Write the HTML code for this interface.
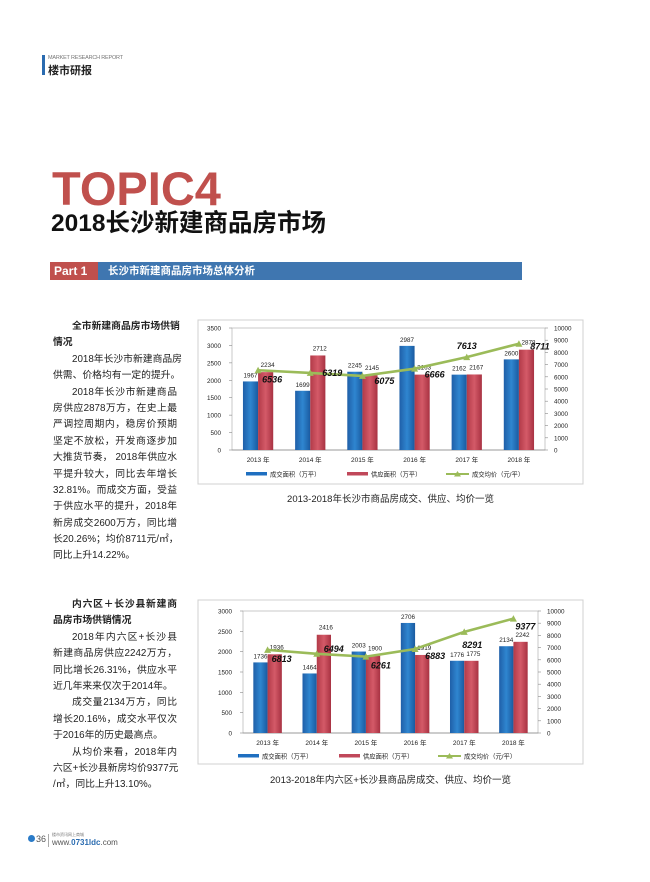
<!DOCTYPE html>
<html><head><meta charset="utf-8">
<style>
*{margin:0;padding:0;box-sizing:border-box}
body{width:650px;height:882px;background:#fff;position:relative;overflow:hidden;font-family:"Liberation Sans","Noto Sans CJK SC",sans-serif;color:#222}
.abs{position:absolute}
.txt{position:absolute;left:53px;width:124px;font-size:9.8px;line-height:16.4px;color:#222}
.txt div{white-space:nowrap;height:16.4px;overflow:visible}
.txt .j{text-align:justify;text-align-last:justify}
.txt .i{padding-left:19px}
.txt .h{font-weight:bold}
.cap{position:absolute;font-size:9.5px;color:#222;width:385px;text-align:center;left:198px}
</style></head><body>
<div class="abs" style="left:42px;top:55px;width:3px;height:20px;background:#2a6bb0"></div>
<div class="abs" style="left:48px;top:55px;font-size:5.5px;color:#777;letter-spacing:-0.2px">MARKET RESEARCH REPORT</div>
<div class="abs" style="left:48px;top:62px;font-size:11px;font-weight:bold;color:#222">楼市研报</div>
<div class="abs" style="left:52px;top:164px;font-size:47px;font-weight:bold;color:#c0504d;line-height:50px">TOPIC4</div>
<div class="abs" style="left:51px;top:210px;font-size:24.5px;font-weight:bold;color:#111;line-height:28px">2018长沙新建商品房市场</div>
<div class="abs" style="left:97px;top:262px;width:425px;height:18px;background:#3f76b0"></div>
<div class="abs" style="left:50px;top:262px;width:48px;height:18px;background:#c0504d;color:#fff;font-size:12px;font-weight:bold;line-height:18px;padding-left:4px">Part 1</div>
<div class="abs" style="left:108px;top:262px;color:#fff;font-size:10.5px;font-weight:bold;line-height:18px">长沙市新建商品房市场总体分析</div>

<div class="txt" style="top:319px">
<div class="h j i">全市新建商品房市场供销</div>
<div class="h">情况</div>
<div class="j i">2018年长沙市新建商品房</div>
<div>供需、价格均有一定的提升。</div>
<div class="j i">2018年长沙市新建商品</div>
<div class="j">房供应2878万方，在史上最</div>
<div class="j">严调控周期内，稳房价预期</div>
<div class="j">坚定不放松，开发商逐步加</div>
<div class="j">大推货节奏， 2018年供应水</div>
<div class="j">平提升较大，同比去年增长</div>
<div class="j">32.81%。而成交方面，受益</div>
<div class="j">于供应水平的提升，2018年</div>
<div class="j">新房成交2600万方，同比增</div>
<div>长20.26%；均价8711元/㎡，</div>
<div>同比上升14.22%。</div>
</div>
<div class="txt" style="top:597px">
<div class="h j i">内六区＋长沙县新建商</div>
<div class="h">品房市场供销情况</div>
<div class="j i">2018年内六区+长沙县</div>
<div class="j">新建商品房供应2242万方，</div>
<div class="j">同比增长26.31%，供应水平</div>
<div>近几年来来仅次于2014年。</div>
<div class="j i">成交量2134万方，同比</div>
<div class="j">增长20.16%，成交水平仅次</div>
<div>于2016年的历史最高点。</div>
<div class="j i">从均价来看，2018年内</div>
<div class="j">六区+长沙县新房均价9377元</div>
<div>/㎡，同比上升13.10%。</div>
</div>

<svg class="abs" style="left:0;top:0" width="650" height="882">
<defs>
<linearGradient id="gb" x1="0" x2="1"><stop offset="0" stop-color="#1f5fa8"/><stop offset="0.5" stop-color="#2f86d0"/><stop offset="1" stop-color="#1a5aa0"/></linearGradient>
<linearGradient id="gr" x1="0" x2="1"><stop offset="0" stop-color="#b23a48"/><stop offset="0.5" stop-color="#d45a68"/><stop offset="1" stop-color="#a83242"/></linearGradient>
</defs>
<g id="c1"></g><g id="c2"></g>
</svg>
<div class="cap" style="top:491px">2013-2018年长沙市商品房成交、供应、均价一览</div>
<div class="cap" style="top:772px">2013-2018年内六区+长沙县商品房成交、供应、均价一览</div>

<div class="abs" style="left:28px;top:834px;font-size:9px;color:#555"><span style="display:inline-block;width:7px;height:7px;border-radius:50%;background:#2a7bc8;margin-right:1px"></span>36</div>
<div class="abs" style="left:48px;top:834px;width:1px;height:13px;background:#aaa"></div>
<div class="abs" style="left:52px;top:832px;font-size:4px;color:#777">楼市资讯网上商城</div>
<div class="abs" style="left:52px;top:838px;font-size:8px;color:#555">www.<span style="color:#2a6bb0;font-weight:bold">0731ldc</span>.com</div>

<script>
const years = ["2013 年","2014 年","2015 年","2016 年","2017 年","2018 年"];
const deal1 = [1967,1699,2245,2987,2162,2600];
const supply1 = [2234,2712,2145,2163,2167,2878];
const price1 = [6536,6319,6075,6666,7613,8711];
const leftTicks1 = [0,500,1000,1500,2000,2500,3000,3500];
const rightTicks1 = [0,1000,2000,3000,4000,5000,6000,7000,8000,9000,10000];
const deal2 = [1736,1464,2003,2706,1776,2134];
const supply2 = [1936,2416,1900,1919,1775,2242];
const price2 = [6813,6494,6261,6883,8291,9377];
const leftTicks2 = [0,500,1000,1500,2000,2500,3000];
const rightTicks2 = [0,1000,2000,3000,4000,5000,6000,7000,8000,9000,10000];

const NS="http://www.w3.org/2000/svg";
function mk(p,t,a,txt){const e=document.createElementNS(NS,t);for(const k in a)e.setAttribute(k,a[k]);if(txt!==undefined)e.textContent=txt;p.appendChild(e);return e;}

function chart(g,o){
  const {box,x0,x1,yTop,y0,lmax,rmax,deal,supply,price,lt,rt,yl,ll,priceOff}=o;
  const r=mk(g,'rect',{x:box[0],y:box[1],width:box[2],height:box[3],fill:'#fff',stroke:'#d0d0d0','stroke-width':1});
  
  const yL=v=>y0-(v/lmax)*(y0-yTop), yR=v=>y0-(v/rmax)*(y0-yTop);
  const cw=(x1-x0)/years.length, bw=cw*0.29;
  mk(g,'rect',{x:x0,y:yTop,width:x1-x0,height:y0-yTop,fill:'none',stroke:'#bbb','stroke-width':0.8});
  lt.forEach(v=>{const t=mk(g,'text',{x:x0-11,y:yL(v)+2.5,'font-size':6.3,'text-anchor':'end',fill:'#222'},v);
    mk(g,'line',{x1:x0-3,x2:x0,y1:yL(v),y2:yL(v),stroke:'#888','stroke-width':0.6});});
  rt.forEach(v=>{const t=mk(g,'text',{x:x1+9,y:yR(v)+2.5,'font-size':6.3,fill:'#222'},v);
    mk(g,'line',{x1:x1,x2:x1+3,y1:yR(v),y2:yR(v),stroke:'#888','stroke-width':0.6});});
  mk(g,'line',{x1:x0,x2:x1,y1:y0,y2:y0,stroke:'#888','stroke-width':0.8});
  years.forEach((y,i)=>{
    const c=x0+cw*(i+0.5);
    const b=mk(g,'rect',{x:c-bw,y:yL(deal[i]),width:bw,height:y0-yL(deal[i]),fill:'url(#gb)'});
    
    const s=mk(g,'rect',{x:c,y:yL(supply[i]),width:bw,height:y0-yL(supply[i]),fill:'url(#gr)'});
    
    const t1=mk(g,'text',{x:c-bw/2,y:yL(deal[i])-4,'font-size':6.3,'text-anchor':'middle',fill:'#222'},deal[i]);
    
    const t2=mk(g,'text',{x:c+bw/2+2,y:yL(supply[i])-5,'font-size':6.3,'text-anchor':'middle',fill:'#222'},supply[i]);
    
    const xl=mk(g,'text',{x:c,y:y0+12,'font-size':6.5,'text-anchor':'middle',fill:'#222'},y);
    
  });
  let pts=price.map((v,i)=>[x0+cw*(i+0.5),yR(v)]);
  const pl=mk(g,'polyline',{points:pts.map(p=>p.join(',')).join(' '),fill:'none',stroke:'#9bbb59','stroke-width':2.6});
  
  pts.forEach((p,i)=>{
    const m=mk(g,'polygon',{points:`${p[0]-3.5},${p[1]+3} ${p[0]+3.5},${p[1]+3} ${p[0]},${p[1]-3.5}`,fill:'#9bbb59'});
    
    const off=priceOff[i];
    const t=mk(g,'text',{x:p[0]+off[0],y:p[1]+off[1],'font-size':9,'font-weight':'bold','font-style':'italic',fill:'#111','text-anchor':'middle'},price[i]);
    
  });
  const lx=ll;
  const e1=mk(g,'rect',{x:lx,y:yl-2,width:21,height:3.5,fill:'#1f6fc0'});
  mk(g,'text',{x:lx+24,y:yl+2.5,'font-size':6.3,fill:'#222'},'成交面积（万平）');
  const e2=mk(g,'rect',{x:lx+101,y:yl-2,width:21,height:3.5,fill:'#c0485a'});
  mk(g,'text',{x:lx+125,y:yl+2.5,'font-size':6.3,fill:'#222'},'供应面积（万平）');
  const e3=mk(g,'line',{x1:lx+200,x2:lx+223,y1:yl,y2:yl,stroke:'#9bbb59','stroke-width':2});
  mk(g,'polygon',{points:`${lx+208},${yl+2.5} ${lx+215},${yl+2.5} ${lx+211.5},${yl-3}`,fill:'#9bbb59'});
  mk(g,'text',{x:lx+226,y:yl+2.5,'font-size':6.3,fill:'#222'},'成交均价（元/平）');
}
chart(document.getElementById('c1'),{box:[198,320,385,164],x0:232,x1:545,yTop:328,y0:450,lmax:3500,rmax:10000,deal:deal1,supply:supply1,price:price1,lt:leftTicks1,rt:rightTicks1,yl:474,ll:246,
  priceOff:[[14,12],[22,3],[22,8],[20,9],[0,-8],[21,6]]});
chart(document.getElementById('c2'),{box:[198,600,385,164],x0:243,x1:538,yTop:611,y0:733,lmax:3000,rmax:10000,deal:deal2,supply:supply2,price:price2,lt:leftTicks2,rt:rightTicks2,yl:756,ll:238,
  priceOff:[[14,12],[17,-2],[15,12],[20,10],[8,16],[12,11]]});
</script>
</body></html>
